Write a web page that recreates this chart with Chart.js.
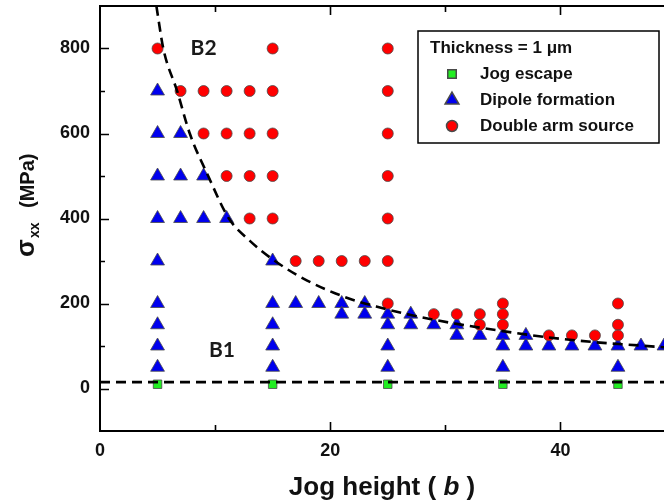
<!DOCTYPE html>
<html>
<head>
<meta charset="utf-8">
<script src="https://cdn.jsdelivr.net/npm/chart.js@4/dist/chart.umd.min.js"></script>
<style>
  html, body { margin: 0; padding: 0; background: #fff; }
  canvas { display: block; }
</style>
</head>
<body>
<canvas id="jogChart" width="664" height="504"></canvas>
<script>
// axis ticks (minor ones carry no label)
const xTickValues = [0, 10, 20, 30, 40];
const xTickLabels = [0, 20, 40];
const yTickValues = [0, 100, 200, 300, 400, 500, 600, 700, 800];
const yTickLabels = [0, 200, 400, 600, 800];

// jog escape
const escapeX = [5, 15, 25, 35, 45];
const escapeY = [10, 10, 10, 10, 10];

// dipole formation
const dipoleX = [5, 5, 5, 5, 5, 5, 5, 5, 5, 7, 7, 7, 9, 9, 11, 15, 15, 15, 15, 15, 17, 19, 21, 21, 23, 23,
  25, 25, 25, 25, 27, 27, 29, 31, 31, 33, 35, 35, 35, 37, 37, 39, 41, 43, 45, 45, 47, 49];
const dipoleY = [700, 600, 500, 400, 300, 200, 150, 100, 50, 600, 500, 400, 500, 400, 400, 300, 200, 150, 100, 50, 200, 200, 200, 175, 200, 175,
  175, 150, 100, 50, 175, 150, 150, 150, 125, 125, 125, 100, 50, 125, 100, 100, 100, 100, 100, 50, 100, 100];

// double arm source
const sourceX = [5, 7, 9, 9, 11, 11, 11, 13, 13, 13, 13, 15, 15, 15, 15, 15, 17, 19, 21, 23,
  25, 25, 25, 25, 25, 25, 25, 29, 31, 33, 33, 35, 35, 35, 39, 41, 43, 45, 45, 45];
const sourceY = [800, 700, 700, 600, 700, 600, 500, 700, 600, 500, 400, 800, 700, 600, 500, 400, 300, 300, 300, 300,
  800, 700, 600, 500, 400, 300, 200, 175, 175, 175, 150, 200, 175, 150, 125, 125, 125, 200, 150, 125];

// dashed boundary B1/B2
const curveX = [4.9, 5.5, 6.7, 7.8, 9.4, 11.2, 13, 15.2, 18, 21.5, 24, 27, 31, 35, 39, 43, 47, 49];
const curveY = [900, 800, 700, 600, 500, 400, 348, 300, 254, 213, 193, 173, 152, 135, 120, 109, 101, 97];

// lower dashed line
const cutoffX = [0, 49];
const cutoffY = [15, 15];

// region labels
const regionText = ["B2", "B1"];
const regionX = [9, 10.6];
const regionY = [800, 90];

const legendTitle = "Thickness = 1 \u03bcm";

function pairs(xs, ys) {
  return xs.map((x, i) => ({ x: x, y: ys[i] }));
}

Chart.defaults.font.family = "'Liberation Sans', Arial, sans-serif";
Chart.defaults.color = "#111";

// frame, inward ticks, axis titles, region labels, legend box
const decor = {
  id: "decor",
  afterDraw(chart) {
    const ctx = chart.ctx;
    const a = chart.chartArea;
    const xs = chart.scales.x;
    const ys = chart.scales.y;
    ctx.save();

    ctx.strokeStyle = "#000";
    ctx.lineWidth = 2;
    ctx.beginPath();
    ctx.moveTo(a.right + 2, a.top);
    ctx.lineTo(a.left, a.top);
    ctx.lineTo(a.left, a.bottom);
    ctx.lineTo(a.right + 2, a.bottom);
    ctx.stroke();

    ctx.lineWidth = 1.6;
    ctx.beginPath();
    xTickValues.forEach(v => {
      const px = Math.round(xs.getPixelForValue(v)) + 0.5;
      const len = xTickLabels.includes(v) ? 9 : 6;
      if (v !== 0) {
        ctx.moveTo(px, a.bottom);
        ctx.lineTo(px, a.bottom - len);
        ctx.moveTo(px, a.top);
        ctx.lineTo(px, a.top + len);
      }
    });
    yTickValues.forEach(v => {
      const py = Math.round(ys.getPixelForValue(v)) + 0.5;
      const len = yTickLabels.includes(v) ? 9 : 5;
      ctx.moveTo(a.left, py);
      ctx.lineTo(a.left + len, py);
    });
    ctx.stroke();

    // x title with italic b
    ctx.fillStyle = "#111";
    ctx.textBaseline = "alphabetic";
    ctx.textAlign = "left";
    const f1 = "bold 26px 'Liberation Sans', Arial, sans-serif";
    const f2 = "italic bold 26px 'Liberation Sans', Arial, sans-serif";
    const parts = [["Jog height ( ", f1], ["b", f2], [" )", f1]];
    let total = 0;
    parts.forEach(p => { ctx.font = p[1]; total += ctx.measureText(p[0]).width; });
    let tx = (a.left + a.right) / 2 - total / 2;
    parts.forEach(p => {
      ctx.font = p[1];
      ctx.fillText(p[0], tx, 495);
      tx += ctx.measureText(p[0]).width;
    });

    // y title, rotated
    ctx.save();
    ctx.translate(34, 257);
    ctx.rotate(-Math.PI / 2);
    ctx.font = "bold 26px 'Liberation Sans', Arial, sans-serif";
    ctx.fillText("\u03c3", 0, 0);
    ctx.font = "bold 14px 'Liberation Sans', Arial, sans-serif";
    ctx.fillText("xx", 19, 5);
    ctx.font = "bold 20px 'Liberation Sans', Arial, sans-serif";
    ctx.fillText("(MPa)", 49, 0);
    ctx.restore();

    // region labels
    ctx.font = "bold 21px Lato, 'Open Sans', sans-serif";
    ctx.textAlign = "center";
    ctx.textBaseline = "middle";
    ctx.fillStyle = "#1a1a1a";
    regionText.forEach((t, i) => {
      ctx.fillText(t, xs.getPixelForValue(regionX[i]), ys.getPixelForValue(regionY[i]));
    });

    // legend box
    const bx = 418, by = 31, bw = 241, bh = 112;
    ctx.fillStyle = "#fff";
    ctx.fillRect(bx, by, bw, bh);
    ctx.strokeStyle = "#000";
    ctx.lineWidth = 1.5;
    ctx.strokeRect(bx, by, bw, bh);
    ctx.fillStyle = "#111";
    ctx.textAlign = "left";
    ctx.textBaseline = "middle";
    ctx.font = "bold 17px 'Liberation Sans', Arial, sans-serif";
    ctx.fillText(legendTitle, 430, 48);
    const items = chart.data.datasets.filter(ds => ds.inLegend);
    items.forEach((ds, i) => {
      const ly = 74 + i * 26;
      ctx.fillStyle = ds.backgroundColor;
      ctx.strokeStyle = ds.borderColor;
      Chart.helpers.drawPoint(ctx, {
        pointStyle: ds.pointStyle,
        radius: ds.pointRadius,
        rotation: 0,
        borderWidth: ds.borderWidth
      }, 452, ly);
      ctx.fillStyle = "#111";
      ctx.fillText(ds.label, 480, ly);
    });

    ctx.restore();
  }
};

function noPad(scale) {
  scale.paddingTop = 0;
  scale.paddingBottom = 0;
  scale.paddingLeft = 0;
  scale.paddingRight = 0;
}

new Chart(document.getElementById("jogChart"), {
  type: "scatter",
  data: {
    datasets: [
      {
        label: "boundary",
        data: pairs(curveX, curveY),
        showLine: true,
        borderColor: "#000",
        borderWidth: 2.6,
        borderDash: [10, 6],
        pointRadius: 0,
        cubicInterpolationMode: "monotone",
        order: 0
      },
      {
        label: "cutoff",
        data: pairs(cutoffX, cutoffY),
        showLine: true,
        borderColor: "#000",
        borderWidth: 2.6,
        borderDash: [10, 6],
        pointRadius: 0,
        order: 0
      },
      {
        label: "Jog escape",
        inLegend: true,
        data: pairs(escapeX, escapeY),
        pointStyle: "rect",
        pointRadius: 6,
        backgroundColor: "#22ee22",
        borderColor: "#4a4a4a",
        borderWidth: 0.8,
        order: 3
      },
      {
        label: "Dipole formation",
        inLegend: true,
        data: pairs(dipoleX, dipoleY),
        pointStyle: "triangle",
        pointRadius: 8,
        backgroundColor: "#0000ee",
        borderColor: "#4a4a4a",
        borderWidth: 0.8,
        order: 2
      },
      {
        label: "Double arm source",
        inLegend: true,
        data: pairs(sourceX, sourceY),
        pointStyle: "circle",
        pointRadius: 5.5,
        backgroundColor: "#ff0000",
        borderColor: "#4a4a4a",
        borderWidth: 0.8,
        order: 1
      }
    ]
  },
  options: {
    responsive: false,
    animation: false,
    events: [],
    layout: { autoPadding: false, padding: { top: 6, right: 0, bottom: 0, left: 0 } },
    plugins: {
      legend: { display: false },
      tooltip: { enabled: false }
    },
    scales: {
      x: {
        type: "linear",
        min: 0,
        max: 49,
        grid: { display: false, drawTicks: false },
        border: { display: false },
        afterBuildTicks: scale => { scale.ticks = xTickValues.map(v => ({ value: v })); },
        afterFit: scale => { scale.height = 73; noPad(scale); },
        ticks: {
          padding: 9,
          autoSkip: false,
          maxRotation: 0,
          font: { size: 18, weight: "bold" },
          callback: v => (xTickLabels.includes(v) ? String(v) : "")
        }
      },
      y: {
        type: "linear",
        min: -100,
        max: 900,
        grid: { display: false, drawTicks: false },
        border: { display: false },
        afterBuildTicks: scale => { scale.ticks = yTickValues.map(v => ({ value: v })); },
        afterFit: scale => { scale.width = 100; noPad(scale); },
        ticks: {
          padding: 10,
          autoSkip: false,
          font: { size: 18, weight: "bold" },
          callback: v => (yTickLabels.includes(v) ? String(v) : "")
        }
      }
    }
  },
  plugins: [decor]
});
</script>
</body>
</html>
